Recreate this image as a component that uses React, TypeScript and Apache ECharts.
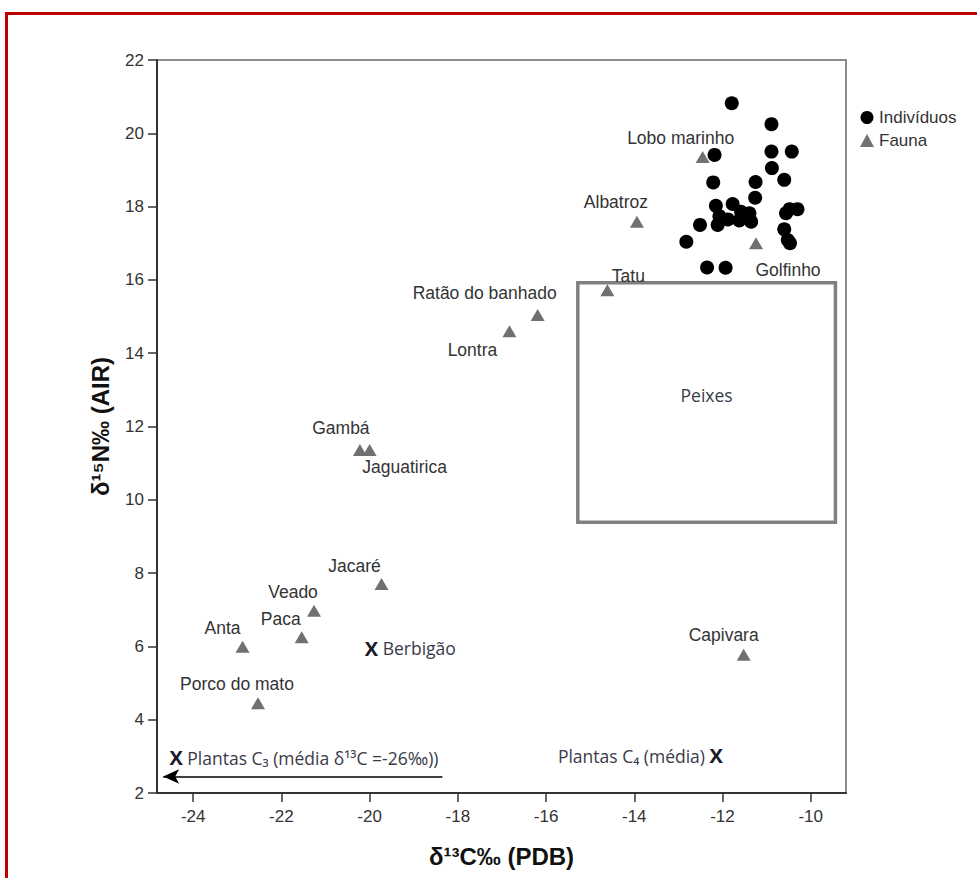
import React, { useEffect, useRef } from "react";
import * as echarts from "echarts";

// Indivíduos (black dots)
const indivX = [-11.79, -10.89, -12.18, -10.89, -10.43, -10.88, -10.6, -12.21, -11.25, -11.26, -12.15, -11.77, -10.48, -10.3, -10.56, -12.07, -11.88, -11.62, -11.39, -11.35, -12.11, -12.51, -10.6, -10.52, -10.47, -12.82, -12.35, -11.93, -11.58];
const indivY = [20.82, 20.25, 19.41, 19.5, 19.5, 19.05, 18.73, 18.66, 18.67, 18.24, 18.02, 18.07, 17.93, 17.93, 17.82, 17.74, 17.65, 17.62, 17.82, 17.59, 17.5, 17.5, 17.38, 17.09, 17.0, 17.04, 16.34, 16.33, 17.86];

// Fauna (grey triangles)
const faunaNames = ["Lobo marinho", "Albatroz", "Golfinho", "Tatu", "Ratão do banhado", "Lontra", "Gambá", "Jaguatirica", "Jacaré", "Veado", "Paca", "Anta", "Porco do mato", "Capivara"];
const faunaX = [-12.45, -13.94, -11.24, -14.61, -16.19, -16.83, -20.22, -20.0, -19.73, -21.26, -21.54, -22.88, -22.53, -11.52];
const faunaY = [19.35, 17.59, 17.0, 15.72, 15.04, 14.6, 11.36, 11.36, 7.7, 6.97, 6.25, 5.99, 4.45, 5.77];

// Reference points (X markers)
const refNames = ["Berbigão", "Plantas C₃ (média δ¹³C =-26‰))", "Plantas C₄ (média)"];
const refX = [-19.95, -24.38, -12.15];
const refY = [5.98, 2.99, 3.04];

// Peixes box and arrow
const peixesX = [-15.28, -9.44];
const peixesY = [15.92, 9.39];
const arrowX = [-18.35, -24.68];
const arrowY = [2.45, 2.45];

// Axes
const xRange = [-24.82, -9.2];
const yRange = [2, 22];
const xTicks = [-24, -22, -20, -18, -16, -14, -12, -10];

// label placement (style, kept apart from data)
const labelOffsets: Record<string, [number, number]> = {
  "Lobo marinho": [-22, -19],
  Albatroz: [-21, -20],
  Golfinho: [32, 27],
  Tatu: [21, -14],
  "Ratão do banhado": [-53, -22],
  Lontra: [-37, 19],
  "Gambá": [-19, -22],
  Jaguatirica: [35, 17],
  "Jacaré": [-27, -18],
  Veado: [-21, -19],
  Paca: [-21, -18],
  Anta: [-20, -19],
  "Porco do mato": [-21, -19],
  Capivara: [-20, -20],
};

const SANS = "Liberation Sans, Arial, sans-serif";
const CAL = "Open Sans, Noto Sans, sans-serif";

export default function App() {
  const ref = useRef<HTMLDivElement>(null);
  useEffect(() => {
    if (!ref.current) return;
    const chart = echarts.init(ref.current, undefined, { renderer: "svg" });
    const refAlign = ["left", "left", "right"];
    const option: any = {
      animation: false,
      backgroundColor: "#fff",
      grid: { left: 157, right: 131, top: 60, bottom: 85, show: true, borderColor: "#8c8c8c", borderWidth: 2, backgroundColor: "transparent" },
      legend: {
        data: ["Indivíduos", "Fauna"],
        orient: "vertical",
        left: 855,
        top: 104,
        itemWidth: 14,
        itemHeight: 13,
        itemGap: 6,
        textStyle: { fontFamily: SANS, fontSize: 17, color: "#333" },
        selectedMode: false,
      },
      xAxis: {
        type: "value",
        min: xRange[0],
        max: xRange[1],
        name: "δ¹³C‰ (PDB)",
        nameLocation: "middle",
        nameGap: 51,
        nameTextStyle: { fontFamily: SANS, fontSize: 24, fontWeight: "bold", color: "#111" },
        axisLine: { show: true, onZero: false, lineStyle: { color: "#333", width: 2 } },
        axisTick: { show: true, length: 9, customValues: xTicks, lineStyle: { color: "#333", width: 1.5 } },
        axisLabel: { customValues: xTicks, fontFamily: SANS, fontSize: 17, color: "#333", margin: 15 },
        splitLine: { show: false },
      },
      yAxis: {
        type: "value",
        min: yRange[0],
        max: yRange[1],
        interval: 2,
        name: "δ¹⁵N‰ (AIR)",
        nameLocation: "middle",
        nameGap: 45,
        nameTextStyle: { fontFamily: SANS, fontSize: 24, fontWeight: "bold", color: "#111" },
        axisLine: { show: true, onZero: false, lineStyle: { color: "#333", width: 2 } },
        axisTick: { show: true, length: 9, lineStyle: { color: "#333", width: 1.5 } },
        axisLabel: { fontFamily: SANS, fontSize: 17, color: "#333", margin: 13 },
        splitLine: { show: false },
      },
      graphic: [
        {
          type: "rect",
          silent: true,
          shape: { x: 6.5, y: 13.5, width: 1000, height: 1000 },
          style: { fill: "none", stroke: "#c00000", lineWidth: 3 },
        },
      ],
      series: [
        {
          name: "Indivíduos",
          type: "scatter",
          symbol: "circle",
          symbolSize: 14,
          itemStyle: { color: "#000", opacity: 1 },
          data: indivX.map((x, i) => [x, indivY[i]]),
          z: 3,
        },
        {
          name: "Fauna",
          type: "scatter",
          symbol: "triangle",
          symbolSize: [14, 12],
          itemStyle: { color: "#707070", opacity: 1 },
          data: faunaNames.map((n, i) => ({
            name: n,
            value: [faunaX[i], faunaY[i]],
            label: { offset: labelOffsets[n] || [0, -18] },
          })),
          label: {
            show: true,
            position: "inside",
            formatter: (p: any) => p.name,
            fontFamily: SANS,
            fontSize: 17.5,
            color: "#333",
          },
          z: 2,
        },
        {
          name: "Referências",
          type: "scatter",
          symbol: "circle",
          symbolSize: 14,
          itemStyle: { color: "rgba(0,0,0,0)", opacity: 1 },
          data: refNames.map((n, i) => ({
            name: n,
            value: [refX[i], refY[i]],
            label: {
              align: refAlign[i],
              offset: refAlign[i] === "left" ? [-7, 1] : [7, 1],
              formatter: refAlign[i] === "left" ? "{x|X} " + n : n + " {x|X}",
            },
          })),
          label: {
            show: true,
            position: "inside",
            fontFamily: CAL,
            fontSize: 17.5,
            color: "#3a3a48",
            rich: { x: { fontFamily: CAL, fontSize: 20, fontWeight: "bold", color: "#1a1a2a" } },
          },
          markLine: {
            silent: true,
            animation: false,
            symbolSize: [11, 16],
            label: { show: false },
            lineStyle: { color: "#000", width: 1.5, type: "solid" },
            data: [[
              { coord: [arrowX[0], arrowY[0]], symbol: "none" },
              { coord: [arrowX[1], arrowY[1]], symbol: "arrow" },
            ]],
          },
          markArea: {
            silent: true,
            itemStyle: { color: "rgba(0,0,0,0)", borderColor: "#808080", borderWidth: 3.5 },
            label: { show: true, position: "inside", offset: [0, -7], fontFamily: CAL, fontSize: 17.5, color: "#3a3a48" },
            data: [[
              { name: "Peixes", coord: [peixesX[0], peixesY[0]] },
              { coord: [peixesX[1], peixesY[1]] },
            ]],
          },
          z: 4,
        },
      ],
    };
    chart.setOption(option);
    return () => chart.dispose();
  }, []);
  return (
    <div
      ref={ref}
      style={{ position: "fixed", left: 0, top: 0, width: 977, height: 878, background: "#fff" }}
    />
  );
}
